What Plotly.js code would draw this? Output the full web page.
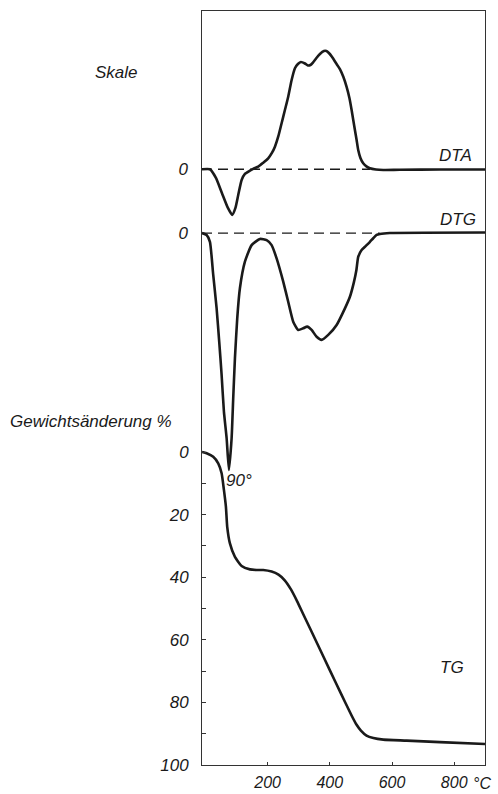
<!DOCTYPE html>
<html>
<head>
<meta charset="utf-8">
<script src="https://cdn.plot.ly/plotly-3.0.1.min.js"></script>
<style>html,body{margin:0;padding:0;background:#fff;}#chart{width:498px;height:794px;}</style>
</head>
<body>
<div id="chart"></div>
<script>
// DTA curve (arbitrary units, exothermic up)
const tempDTA = [-11, 14.5, 33.8, 53, 72.3, 86.2, 96.5, 105.5, 116.4, 127, 143.1, 156, 169.8, 184.9, 201.9, 213.8, 223.5, 234.7, 245, 255.6, 266.2, 277.2, 287.8, 297.4, 307.1, 320, 329.6, 337.6, 345.7, 356.9, 368.2, 381, 389, 397, 406.8, 419.6, 432.5, 443.7, 454, 463, 470.1, 475.9, 480.7, 486.2, 491.3, 498.4, 507.4, 517.7, 529, 548.2, 571.7, 625, 754, 899];
const valDTA  = [0, 0, -7.3, -19.9, -32.5, -38.4, -32.5, -21.6, -9.0, -3.9, -1.2, 0.7, 2.2, 5.3, 9.2, 13.7, 19.0, 28.0, 38.7, 49.8, 61.0, 75.0, 84.9, 88.5, 90.2, 88.9, 87.2, 87.6, 89.7, 93.5, 96.9, 99.4, 99.4, 97.7, 94.5, 89.3, 84.2, 77.5, 69.2, 59.9, 49.8, 40.6, 33.0, 24.6, 16.2, 9.5, 5.0, 2.4, 0.8, -0.2, -0.6, -0.4, -0.2, -0.2];

// DTG curve (arbitrary units, tip at 90 deg = -100)
const tempDTG = [-11, 3.9, 14.5, 25.1, 36.0, 44.4, 52.1, 59.5, 68.2, 75.6, 84.2, 89.4, 94.9, 102.3, 110.9, 127, 148.6, 175.2, 196.8, 212.9, 228.9, 250.2, 266.2, 282.3, 298.4, 314.5, 327.3, 341.5, 357.6, 373.6, 394.9, 421.9, 448.6, 464.6, 477.5, 485.5, 491.3, 502.3, 512.9, 529, 539.5, 550.5, 561.1, 593.2, 899];
const valDTG  = [0, -0.8, -3.7, -17.7, -31.8, -45.9, -59.9, -75.4, -86.6, -100, -86.6, -69.7, -52.9, -36.0, -23.3, -12.1, -5.1, -2.5, -3.0, -5.1, -10.7, -20.5, -29.0, -37.4, -40.9, -40.2, -39.5, -40.9, -43.8, -45.1, -43.0, -38.8, -31.8, -26.9, -20.7, -15.6, -10.1, -7.2, -5.8, -3.7, -2.2, -0.8, -0.4, 0, 0.2];

// TG curve (Gewichtsänderung %)
const tempTG = [-11, 3.9, 25.1, 41.2, 52.1, 59.5, 65.9, 70.1, 78.8, 94.9, 116.4, 143.1, 164.6, 185.9, 212.9, 235, 255, 275, 295, 315, 340, 380, 420, 450, 470, 485, 500, 518, 540, 572, 647, 754, 899];
const valTG  = [0, 0.4, 1.5, 3.6, 6.8, 12.1, 17.5, 23.9, 29.2, 33.5, 36.4, 37.5, 37.7, 37.7, 38.2, 39.2, 41.0, 43.9, 47.7, 51.9, 57.1, 65.5, 73.9, 80.1, 84.2, 87.0, 89.0, 90.6, 91.4, 91.9, 92.2, 92.7, 93.3];

const xTicks = [200, 400, 600, 800];
const tgTicks = [0, 20, 40, 60, 80, 100];
const tgMinor = [10, 30, 50, 70, 90];

const FONT = 'Liberation Sans, Arial, sans-serif';
const ink = '#1a1a1a';
const lineStyle = {color: ink, width: 2.6, shape: 'spline', smoothing: 0.5};

const traces = [
  {x: tempDTA, y: valDTA, yaxis: 'y2', mode: 'lines', line: lineStyle, hoverinfo: 'skip'},
  {x: tempDTG, y: valDTG, yaxis: 'y3', mode: 'lines', line: lineStyle, hoverinfo: 'skip'},
  {x: tempTG, y: valTG, yaxis: 'y', mode: 'lines', line: lineStyle, hoverinfo: 'skip'}
];

const tickFont = {family: FONT, size: 17, color: ink, style: 'italic'};
const xTickFont = {family: FONT, size: 16, color: ink, style: 'italic'};
const txt = (text, x, y, xa, f) => ({text, x, y, xref: 'paper', yref: 'paper', xanchor: xa || 'center', yanchor: 'middle', showarrow: false, font: f || tickFont});

const layout = {
  width: 498, height: 794,
  margin: {l: 202, r: 13, t: 11, b: 29},
  paper_bgcolor: '#fff', plot_bgcolor: '#fff',
  showlegend: false,
  font: {family: FONT, color: ink},
  xaxis: {
    range: [-11, 899], showgrid: false, zeroline: false,
    showline: true, mirror: true, linecolor: '#333', linewidth: 1,
    tickmode: 'array', tickvals: xTicks, ticktext: xTicks.map(String),
    ticks: 'inside', ticklen: 3, tickcolor: '#333', tickfont: xTickFont, ticklabelstandoff: 3
  },
  yaxis: {
    range: [100, -140.9], showgrid: false, zeroline: false,
    showline: true, mirror: true, linecolor: '#333', linewidth: 1,
    tickmode: 'array', tickvals: tgTicks, ticktext: tgTicks.map(String),
    ticks: 'inside', ticklen: 4, tickcolor: '#333', tickfont: tickFont, ticklabelstandoff: 9,
    minor: {tickmode: 'array', tickvals: tgMinor, ticks: 'inside', ticklen: 4, tickcolor: '#333'}
  },
  yaxis2: {
    overlaying: 'y', range: [-500.6, 133.0], showgrid: false, zeroline: false, showline: false,
    tickmode: 'array', tickvals: [0], ticktext: ['0'], ticks: '', tickfont: tickFont, ticklabelstandoff: 13
  },
  yaxis3: {
    overlaying: 'y', range: [-224.5, 93.7], showgrid: false, zeroline: false, showline: false,
    tickmode: 'array', tickvals: [0], ticktext: ['0'], ticks: '', tickfont: tickFont, ticklabelstandoff: 13
  },
  shapes: [
    {type: 'line', xref: 'x', yref: 'y2', x0: -11, x1: 530, y0: 0, y1: 0, line: {color: ink, width: 1.3, dash: '10px,6px'}, layer: 'below'},
    {type: 'line', xref: 'x', yref: 'y3', x0: -11, x1: 560, y0: 0, y1: 0, line: {color: ink, width: 1.3, dash: '10px,6px'}, layer: 'below'}
  ],
  annotations: [
    txt('Skale', -0.302, 0.918),
    txt('Gewichtsänderung %', -0.6855, 0.455, 'left'),
    txt('DTA', 0.894, 0.809),
    txt('DTG', 0.906, 0.724),
    txt('TG', 0.885, 0.129),
    txt('90°', 0.132, 0.377),
    txt('°C', 0.991, -0.025, 'center', xTickFont)
  ]
};

Plotly.newPlot('chart', traces, layout, {staticPlot: true, displayModeBar: false});
</script>
</body>
</html>
